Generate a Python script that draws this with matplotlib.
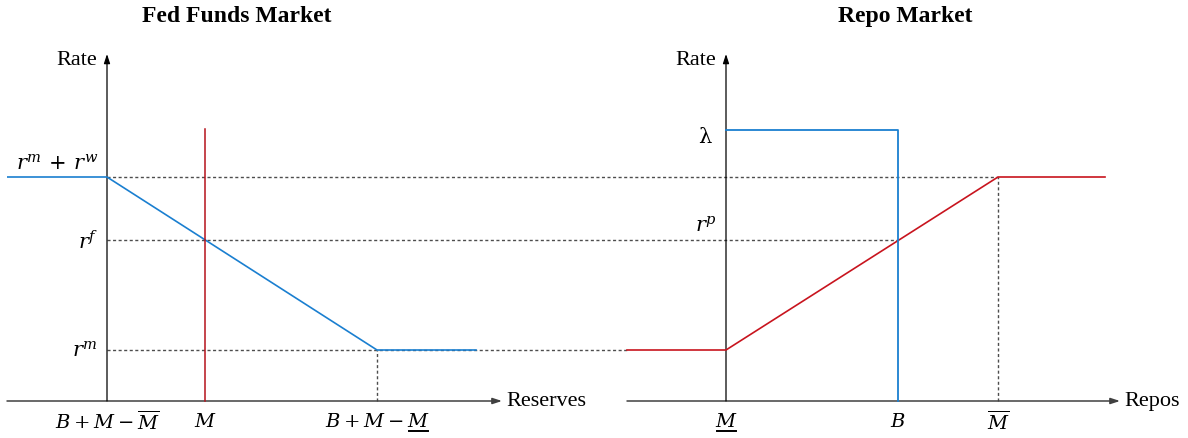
import matplotlib
matplotlib.use("Agg")
import matplotlib.pyplot as plt
from matplotlib.patches import ArrowStyle
from matplotlib.lines import Line2D

plt.rcParams['mathtext.fontset'] = 'dejavuserif'
plt.rcParams['font.family'] = ['Liberation Serif', 'DejaVu Serif']

# ---- data (abstract units) ----
# rates
r_m = 0.51
r_f = 1.61
r_mw = 2.24
lam = 2.71
rate_top = 3.47

# Fed funds market (left): reserves axis
ff_xmin = -1.0
ff_M = 0.98           # supply of reserves M
ff_kink = 2.70        # B + M - M_low
ff_end = 3.69
ff_axis_end = 3.95
ff_red_top = 2.72
ff_demand_x = [ff_xmin, 0.0, ff_kink, ff_end]
ff_demand_y = [r_mw, r_mw, r_m, r_m]
ff_tick_pos = [0.0, ff_M, ff_kink]
ff_tick_lab = [r'$B+M-\overline{M}$', r'$M$', r'$B+M-M$']
ff_tick_under = [False, False, True]

# Repo market (right)
rp_xmin = -0.99
rp_B = 1.72
rp_Mbar = 2.72
rp_end = 3.79
rp_axis_end = 3.94
rp_supply_x = [rp_xmin, 0.0, rp_Mbar, rp_end]
rp_supply_y = [r_m, r_m, r_mw, r_mw]
rp_demand_x = [0.0, rp_B, rp_B]
rp_demand_y = [lam, lam, 0.0]
rp_tick_pos = [0.0, rp_B, rp_Mbar]
rp_tick_lab = [r'$M$', r'$B$', r'$\overline{M}$']
rp_tick_under = [True, False, False]

BLUE = '#1a7fd0'
RED = '#c8141e'
DOT = dict(color='0.3', lw=1.0, ls=(0, (2.2, 1.8)))
FS = 14
RFS = 15
TFS = 16

W, H = 1188, 439
fig = plt.figure(figsize=(W / 100, H / 100), dpi=100)
axL = fig.add_axes([7 / W, 0, 500 / W, 1])
axR = fig.add_axes([626 / W, 0, 500 / W, 1])
for ax in (axL, axR):
    ax.set_xlim(-1, 4)
    ax.set_ylim(-0.37, 4.02)
    ax.axis('off')

arrow = ArrowStyle('-|>', head_length=0.55, head_width=0.18)


def draw_axes(ax, xmin, xend, xlabel):
    ax.annotate('', xy=(xend, 0), xytext=(xmin, 0),
                arrowprops=dict(arrowstyle=arrow, lw=1.1, color='0.25',
                                mutation_scale=10, shrinkA=0, shrinkB=0))
    ax.annotate('', xy=(0, rate_top), xytext=(0, 0),
                arrowprops=dict(arrowstyle=arrow, lw=0.9, color='black',
                                mutation_scale=10, shrinkA=0, shrinkB=0))
    ax.text(xend + 0.04, 0.0, xlabel, ha='left', va='center', fontsize=TFS)
    ax.text(-0.1, 3.41, 'Rate', ha='right', va='center', fontsize=TFS)


draw_axes(axL, ff_xmin, ff_axis_end, 'Reserves')
draw_axes(axR, rp_xmin, rp_axis_end, 'Repos')

# tick labels
tick_texts = []
for ax, pos, labs, und in ((axL, ff_tick_pos, ff_tick_lab, ff_tick_under),
                           (axR, rp_tick_pos, rp_tick_lab, rp_tick_under)):
    for p, t, u in zip(pos, labs, und):
        txt = ax.text(p, -0.20, t, ha='center', va='center', fontsize=FS)
        if u:
            tick_texts.append(txt)

# probe for the width of an italic M
probe = fig.text(0, 0, r'$M$', fontsize=FS)

fig.canvas.draw()
renderer = fig.canvas.get_renderer()
mw = probe.get_window_extent(renderer).width
probe.remove()

# underline the last M of the flagged labels
for txt in tick_texts:
    bb = txt.get_window_extent(renderer)
    x1 = bb.x1 - 1
    x0 = x1 - mw + 3
    y = bb.y0 - 1
    fig.add_artist(Line2D([x0 / W, x1 / W], [y / H, y / H],
                          transform=fig.transFigure, color='black', lw=1.4))


def r2l(x):
    disp = axR.transData.transform((x, 0))
    return axL.transData.inverted().transform(disp)[0]

# dotted guide lines
axL.plot([0, r2l(rp_Mbar)], [r_mw, r_mw], clip_on=False, zorder=1, **DOT)
axL.plot([0, r2l(rp_B)], [r_f, r_f], clip_on=False, zorder=1, **DOT)
axL.plot([0, r2l(rp_xmin)], [r_m, r_m], clip_on=False, zorder=1, **DOT)
axL.plot([ff_kink, ff_kink], [0, r_m], zorder=1, **DOT)
axR.plot([rp_Mbar, rp_Mbar], [0, r_mw], zorder=1, **DOT)

# curves
axL.plot(ff_demand_x, ff_demand_y, color=BLUE, lw=1.2, zorder=3)
axL.plot([ff_M, ff_M], [0, ff_red_top], color='#b5121b', lw=1.1, zorder=3)
axR.plot(rp_supply_x, rp_supply_y, color=RED, lw=1.2, zorder=3)
axR.plot(rp_demand_x, rp_demand_y, color=BLUE, lw=1.3, zorder=3)

# rate labels
axL.text(-0.09, 2.37, r'$r^{m}\,+\,r^{w}$', ha='right', va='center', fontsize=RFS)
axL.text(-0.09, 1.59, r'$r^{f}$', ha='right', va='center', fontsize=RFS)
axL.text(-0.09, 0.50, r'$r^{m}$', ha='right', va='center', fontsize=RFS)
axR.text(-0.21, 2.64, r'$\mathrm{\lambda}$', ha='center', va='center', fontsize=RFS)
axR.text(-0.09, 1.75, r'$r^{p}$', ha='right', va='center', fontsize=RFS)

# titles
axL.text(1.30, 3.85, 'Fed Funds Market', ha='center', va='center',
         fontsize=17, fontweight='bold')
axR.text(1.79, 3.85, 'Repo Market', ha='center', va='center',
         fontsize=17, fontweight='bold')

fig.savefig('out.png', dpi=100)
